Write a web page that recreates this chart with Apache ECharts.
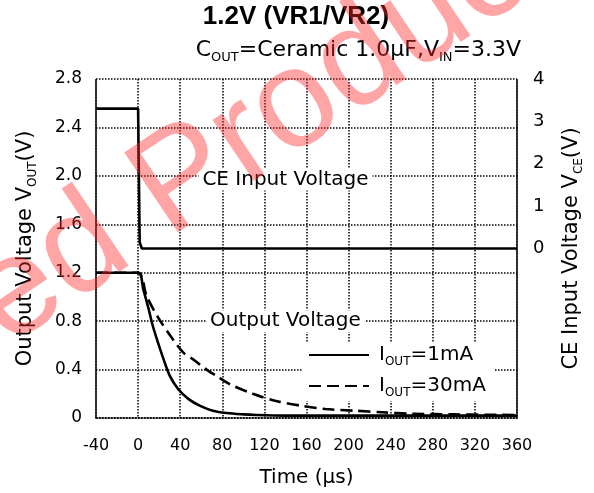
<!DOCTYPE html>
<html>
<head>
<meta charset="utf-8">
<script src="https://cdn.jsdelivr.net/npm/echarts@6/dist/echarts.min.js"></script>
<style>
  html, body { margin: 0; padding: 0; background: #fff; }
  #chart { width: 594px; height: 493px; }
</style>
</head>
<body>
<div id="chart"></div>
<script>
// Axis ranges: time in µs, output voltage (left) and CE voltage (right)
const timeRange = { min: -40, max: 360, step: 40 };
const voutRange = { min: 0, max: 2.8, step: 0.4 };
const vceRange = { min: -4, max: 4, step: 1 };

// CE input voltage: 3.3V stepped down to 0V at t = 0
const ceTime = [-40, 0, 1.5, 1.5, 3.5, 360];
const ceVolt = [3.3, 3.3, 3.3, 0.15, 0, 0];

// Output voltage discharge, IOUT = 1mA
const t1mA = [-40, 0, 5, 10, 14, 19, 24, 30, 38, 48, 59, 71, 84, 100, 112, 140, 180, 240, 300, 360];
const v1mA = [1.2, 1.2, 1.06, 0.90, 0.76, 0.62, 0.49, 0.35, 0.24, 0.156, 0.10, 0.06, 0.041, 0.03, 0.025, 0.02, 0.02, 0.02, 0.02, 0.02];

// Output voltage discharge, IOUT = 30mA
const t30mA = [-40, 0, 8, 19, 33, 43, 52, 65, 74, 87, 109, 131, 156, 178, 206, 232, 260, 300, 360];
const v30mA = [1.2, 1.2, 1.01, 0.83, 0.65, 0.54, 0.486, 0.40, 0.35, 0.28, 0.20, 0.14, 0.10, 0.074, 0.06, 0.047, 0.035, 0.03, 0.025];

const seriesNames = ['IOUT=1mA', 'IOUT=30mA'];

const zip = (xs, ys) => xs.map((x, i) => [x, ys[i]]);

const FONT = '"DejaVu Sans", sans-serif';
const dotted = { color: '#000', width: 1.5, type: [1.5, 1.5] };
const subStyle = { fontFamily: FONT, fontSize: 12, color: '#000', verticalAlign: 'bottom', padding: [0, 0, -3, 0] };

const chart = echarts.init(document.getElementById('chart'), null, { renderer: 'canvas' });

chart.setOption({
  animation: false,
  backgroundColor: '#fff',
  title: [
    {
      text: '1.2V (VR1/VR2)',
      left: 296, top: 4, textAlign: 'center', padding: 0,
      textStyle: { fontFamily: '"Liberation Sans", Arial, sans-serif', fontWeight: 'bold', fontSize: 26, color: '#000' }
    },
    {
      text: 'C{s|OUT}=Ceramic 1.0µF,V{s|IN}=3.3V',
      right: 73, top: 39, padding: 0,
      textStyle: {
        fontFamily: FONT, fontSize: 22, color: '#000', fontWeight: 'normal',
        rich: { s: Object.assign({}, subStyle, { fontSize: 13 }) }
      }
    }
  ],
  grid: { left: 96, right: 77, top: 79, bottom: 74, containLabel: false },
  legend: {
    orient: 'vertical',
    left: 303, top: 343,
    itemWidth: 60, itemHeight: 20, itemGap: 8,
    backgroundColor: '#fff',
    padding: [2, 8, 2, 5],
    data: seriesNames,
    itemStyle: { opacity: 0 },
    formatter: n => n.replace('OUT', '{s|OUT}'),
    textStyle: {
      fontFamily: FONT, fontSize: 20, color: '#000', padding: [0, 0, 0, 5],
      rich: { s: subStyle }
    }
  },
  xAxis: {
    type: 'value',
    min: timeRange.min, max: timeRange.max, interval: timeRange.step,
    name: 'Time (µs)',
    nameLocation: 'middle', nameGap: 50,
    nameTextStyle: { fontFamily: FONT, fontSize: 20, color: '#000' },
    axisLine: { show: true, onZero: false, lineStyle: dotted },
    axisTick: { show: false },
    splitLine: { show: true, lineStyle: dotted },
    axisLabel: { fontFamily: FONT, fontSize: 16, color: '#000', margin: 20 }
  },
  yAxis: [
    {
      type: 'value', position: 'left',
      min: voutRange.min, max: voutRange.max, interval: voutRange.step,
      name: 'Output Voltage V{s|OUT}(V)',
      nameLocation: 'middle', nameGap: 60, nameRotate: 90,
      nameTextStyle: { fontFamily: FONT, fontSize: 21, color: '#000', rich: { s: subStyle } },
      axisLine: { show: true, onZero: false, lineStyle: dotted },
      axisTick: { show: false },
      splitLine: { show: true, lineStyle: dotted },
      axisLabel: {
        fontFamily: FONT, fontSize: 17, color: '#000', margin: 14,
        formatter: v => (v === 0 ? '0' : v.toFixed(1))
      }
    },
    {
      type: 'value', position: 'right',
      min: vceRange.min, max: vceRange.max, interval: vceRange.step,
      name: 'CE Input Voltage V{s|CE}(V)',
      nameLocation: 'middle', nameGap: 44, nameRotate: 90,
      nameTextStyle: { fontFamily: FONT, fontSize: 21, color: '#000', rich: { s: subStyle } },
      axisLine: { show: true, onZero: false, lineStyle: dotted },
      axisTick: { show: false },
      splitLine: { show: false },
      axisLabel: {
        fontFamily: FONT, fontSize: 18, color: '#000', margin: 16,
        formatter: v => (v >= 0 ? String(v) : '')
      }
    }
  ],
  series: [
    {
      name: 'CE', type: 'line', yAxisIndex: 1,
      data: zip(ceTime, ceVolt),
      symbol: 'none', smooth: false,
      itemStyle: { color: '#000' },
      lineStyle: { color: '#000', width: 2.6 },
      z: 3
    },
    {
      name: seriesNames[0], type: 'line', yAxisIndex: 0,
      data: zip(t1mA, v1mA),
      symbol: 'none', smooth: 0.3,
      itemStyle: { color: '#000' },
      lineStyle: { color: '#000', width: 2.6 },
      z: 3
    },
    {
      name: seriesNames[1], type: 'line', yAxisIndex: 0,
      data: zip(t30mA, v30mA),
      symbol: 'none', smooth: 0.3,
      itemStyle: { color: '#000' },
      lineStyle: { color: '#000', width: 2.6, type: [12, 6] },
      z: 3
    }
  ]
});

// Curve annotations placed in data space, plus the diagonal stamp
const ceAt = chart.convertToPixel({ xAxisIndex: 0, yAxisIndex: 0 }, [140, 1.97]);
const outAt = chart.convertToPixel({ xAxisIndex: 0, yAxisIndex: 0 }, [140, 0.8]);

const annotation = (pt, text) => ({
  type: 'text', x: pt[0], y: pt[1], z: 50,
  style: {
    text, fill: '#000', font: '20px "DejaVu Sans", sans-serif',
    align: 'center', verticalAlign: 'middle',
    backgroundColor: '#fff', padding: [1, 4]
  }
});

chart.setOption({
  graphic: [
    annotation(ceAt, 'CE Input Voltage'),
    annotation(outAt, 'Output Voltage'),
    {
      type: 'text', x: 547, y: -63, rotation: 0.593, z: 100,
      style: {
        text: 'Discontinued Product',
        fill: 'rgba(255, 40, 40, 0.42)',
        font: '140px "Liberation Sans", Arial, sans-serif',
        align: 'right', verticalAlign: 'middle'
      }
    }
  ]
});
</script>
</body>
</html>
